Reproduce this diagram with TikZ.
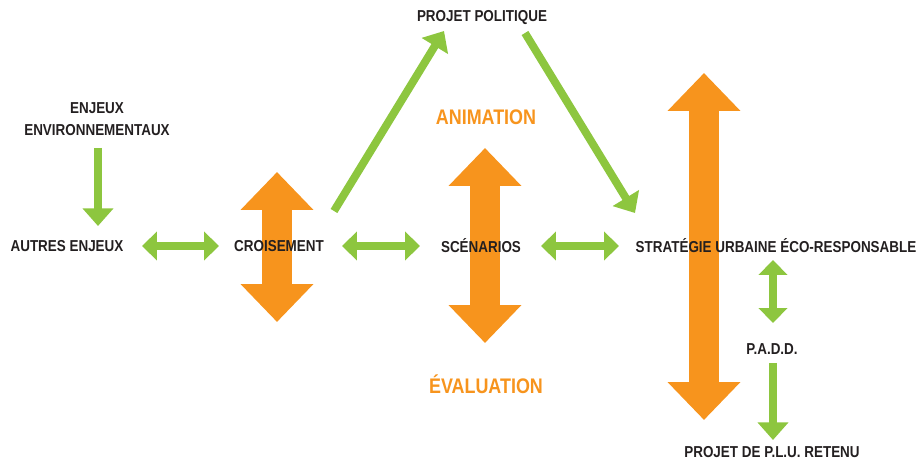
\documentclass[tikz,border=0pt]{standalone}
\usepackage{fontspec}
\setmainfont{Liberation Sans}[FakeStretch=0.85]
\usetikzlibrary{arrows.meta,calc,backgrounds}
\definecolor{vert}{HTML}{8DC63F}
\definecolor{orangeA}{HTML}{F7941D}
\definecolor{texte}{HTML}{231F20}
\tikzstyle{etiq}=[text=texte,font=\bfseries\fontsize{9}{12.5}\selectfont,align=center,inner sep=0pt]
\tikzstyle{titre}=[text=orangeA,font=\bfseries\fontsize{12}{14}\selectfont,inner sep=0pt]
\tikzstyle{fleche}=[draw=vert,line width=4.5pt,-{Triangle[width=17pt,length=10pt]}]
\tikzstyle{allerretour}=[draw=vert,line width=5pt,{Triangle[width=16pt,length=8.5pt]}-{Triangle[width=16pt,length=8.5pt]}]
\tikzstyle{grande}=[draw=orangeA,line width=17pt,{Triangle[width=40pt,length=21.5pt]}-{Triangle[width=40pt,length=21.5pt]}]

\begin{document}
\begin{tikzpicture}[x=0.02cm,y=-0.02cm]
  \useasboundingbox (0,0) rectangle (921,466);
  \node[etiq] (pol) at (482,18) {PROJET POLITIQUE};
  \node[etiq] (env) at (97,119) {ENJEUX\\ENVIRONNEMENTAUX};
  \node[etiq] (aut) at (67,246) {AUTRES ENJEUX};
  \node[etiq] (crois) at (279,246) {CROISEMENT};
  \node[etiq] (scen) at (481,246) {SCÉNARIOS};
  \node[etiq] (strat) at (776,246) {STRATÉGIE URBAINE ÉCO-RESPONSABLE};
  \node[etiq] (padd) at (772,349) {P.A.D.D.};
  \node[etiq] (plu) at (772,452) {PROJET DE P.L.U. RETENU};
  \node[titre] (anim) at (486,117) {ANIMATION};
  \node[titre] (eval) at (486,384) {ÉVALUATION};
  % fleches vertes
  \draw[fleche] ($(env)+(1,29)$) -- ($(aut)+(31,-20)$);
  \draw[allerretour] ($(aut)+(75,0)$) -- ($(crois)+(-60,0)$);
  \draw[allerretour] ($(crois)+(63,0)$) -- ($(scen)+(-61,0)$);
  \draw[allerretour] ($(scen)+(60,0)$) -- ($(strat)+(-157,0)$);
  \draw[fleche] ($(crois)+(55,-35)$) -- ($(pol)+(-38,13)$);
  \draw[fleche] ($(pol)+(43,15)$) -- ($(strat)+(-141,-33)$);
  \draw[allerretour] ($(strat)+(-3,14)$) -- ($(padd)+(1,-26)$);
  \draw[fleche] ($(padd)+(1,14)$) -- ($(plu)+(1,-12)$);
  % fleches orange, sous le texte
  \begin{scope}[on background layer]
    \draw[grande] ($(crois)+(-2,-74)$) -- ($(crois)+(-2,76)$);
    \draw[grande] ($(scen)+(4,-98)$) -- ($(scen)+(4,97)$);
    \draw[grande] ($(strat)+(-72,-173)$) -- ($(strat)+(-72,174)$);
  \end{scope}
\end{tikzpicture}
\end{document}
